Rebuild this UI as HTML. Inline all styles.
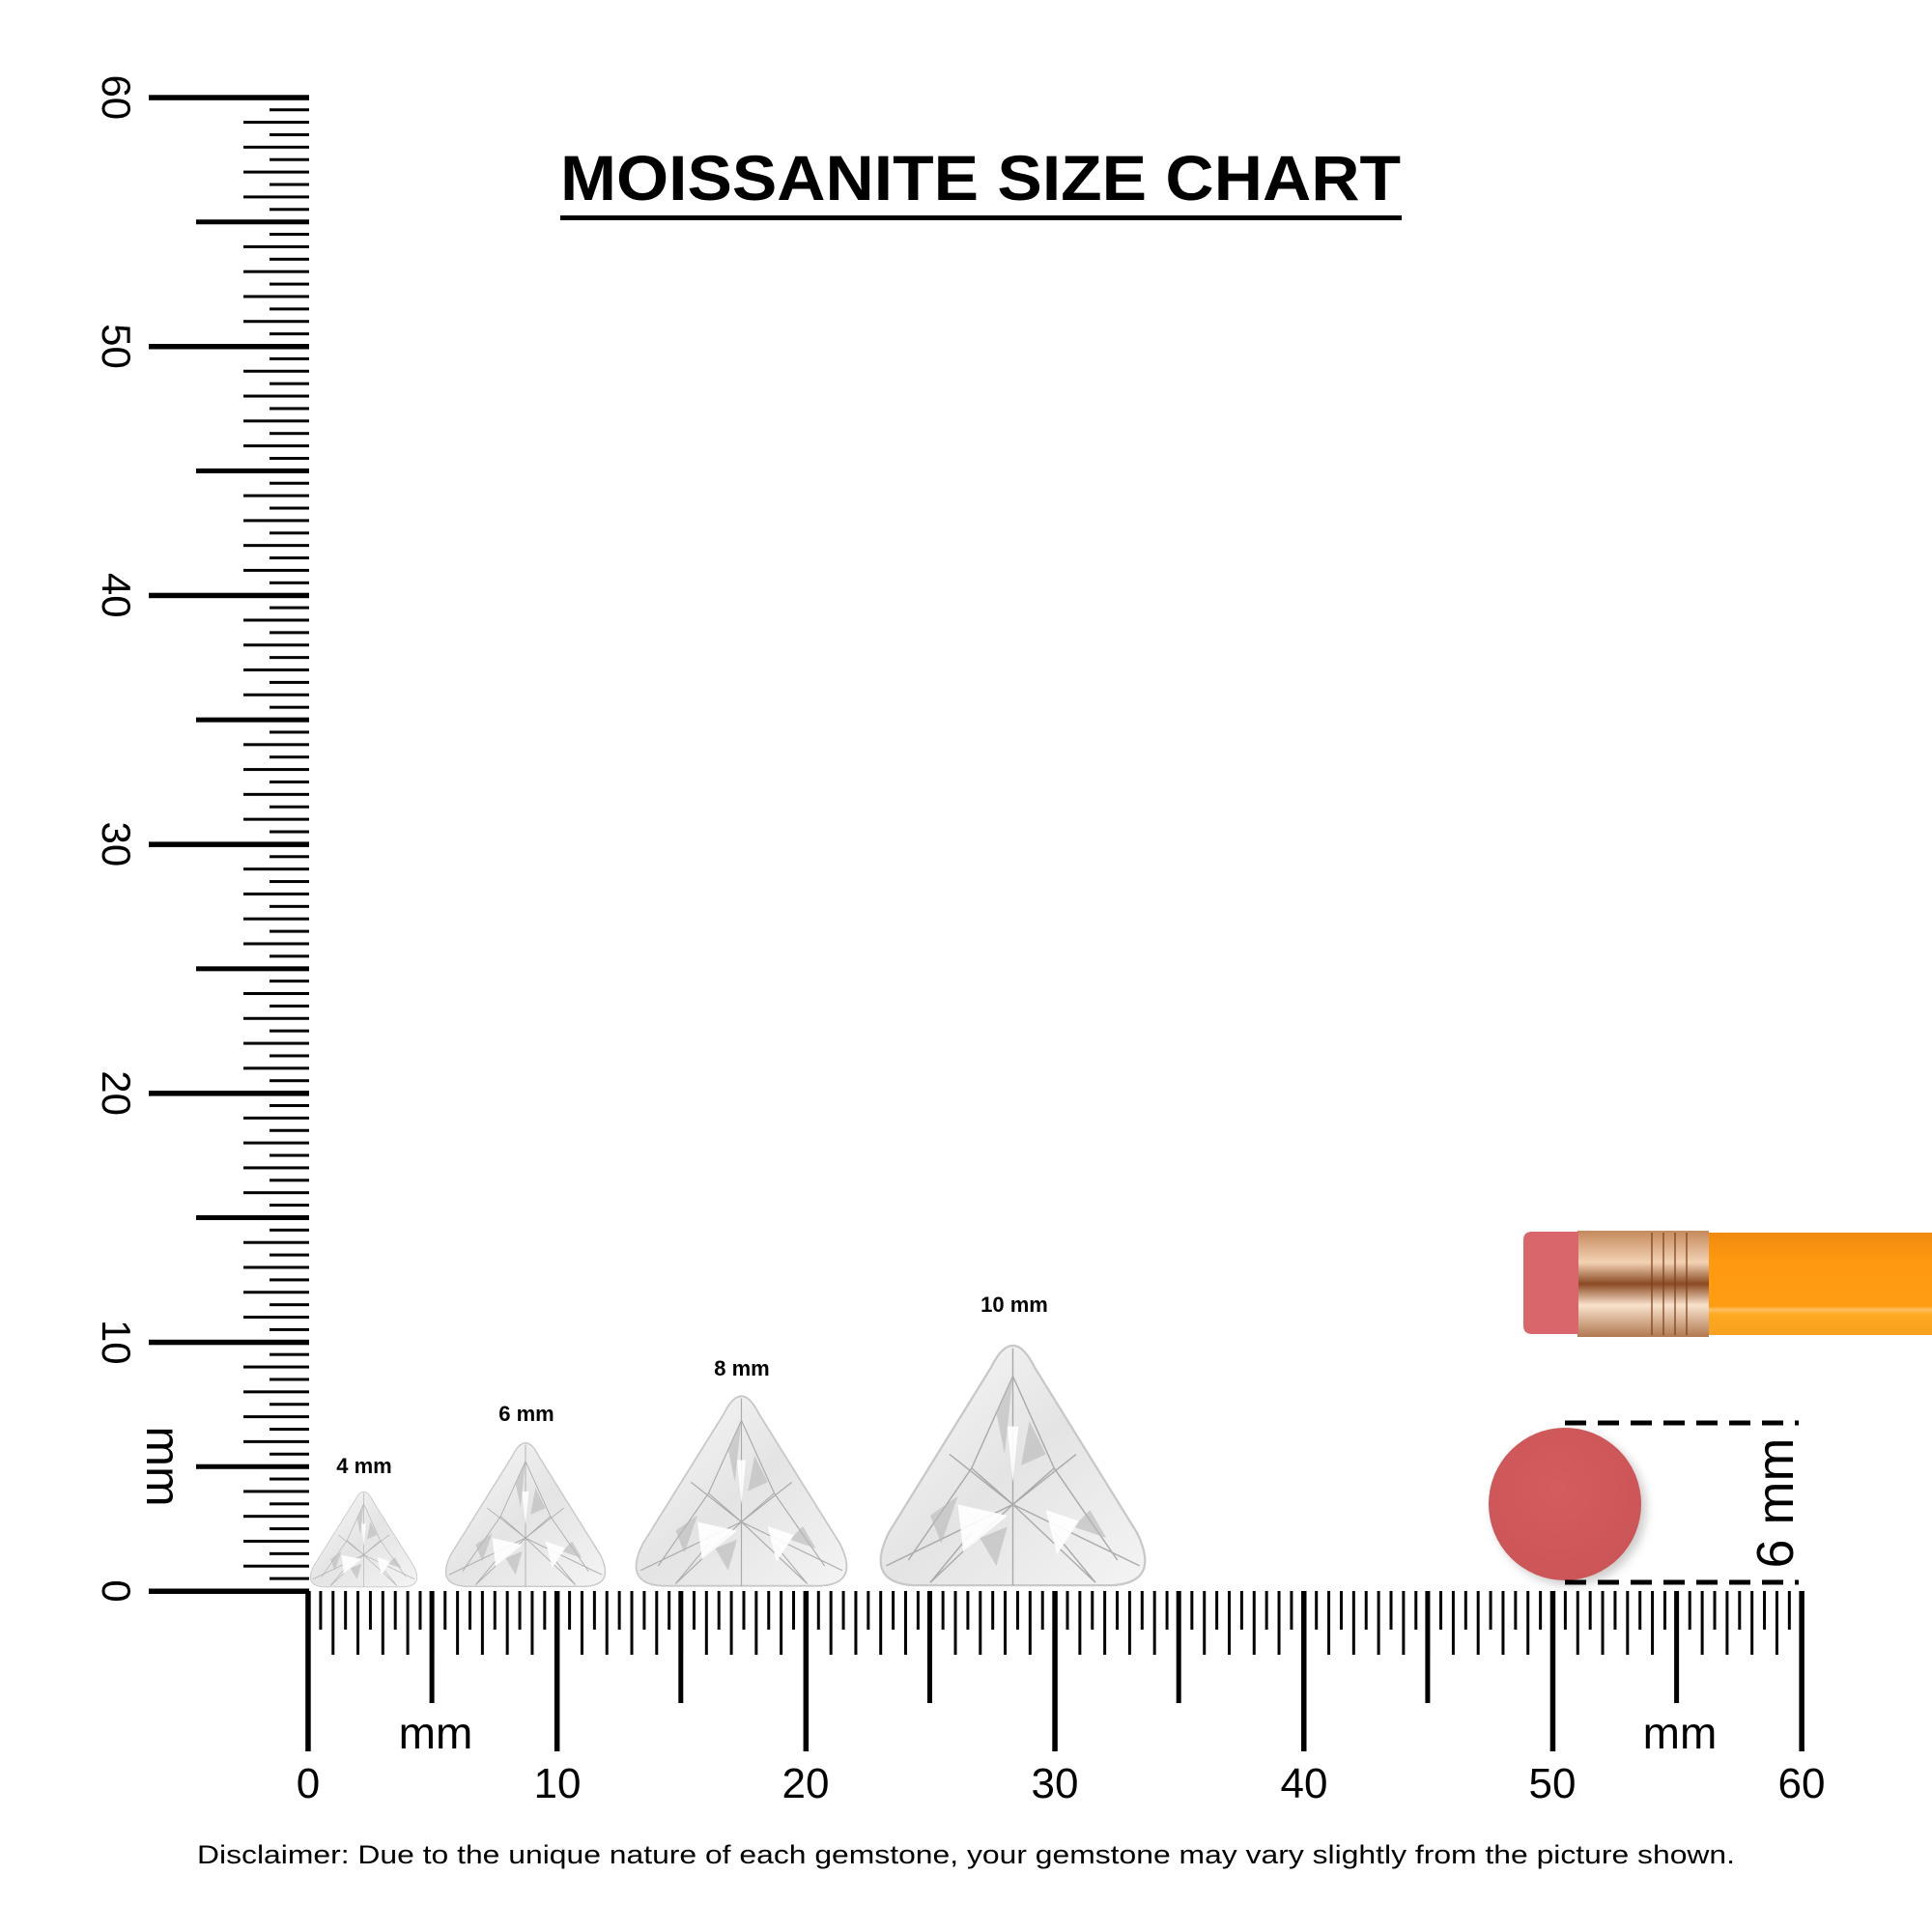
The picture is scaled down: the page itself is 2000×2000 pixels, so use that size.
<!DOCTYPE html>
<html><head><meta charset="utf-8"><style>html,body{margin:0;padding:0;background:#fff}svg{display:block}</style></head>
<body>
<svg width="2000" height="2000" viewBox="0 0 2000 2000" xmlns="http://www.w3.org/2000/svg">
<defs>
<pattern id="hHalf" patternUnits="userSpaceOnUse" x="319" y="0" width="25.77" height="2000"><rect x="11.4" y="0" width="3" height="2000" fill="#000"/></pattern>
<pattern id="hFull" patternUnits="userSpaceOnUse" x="317.5" y="0" width="25.77" height="2000"><rect x="0" y="0" width="3" height="2000" fill="#000"/></pattern>
<pattern id="vHalf" patternUnits="userSpaceOnUse" x="0" y="1647" width="2000" height="25.77"><rect x="0" y="11.4" width="2000" height="3" fill="#000"/></pattern>
<pattern id="vFull" patternUnits="userSpaceOnUse" x="0" y="1645.5" width="2000" height="25.77"><rect x="0" y="0" width="2000" height="3" fill="#000"/></pattern>
<linearGradient id="gem" x1="0" y1="0" x2="1" y2="1"><stop offset="0" stop-color="#fafafa"/><stop offset="0.5" stop-color="#e4e4e4"/><stop offset="1" stop-color="#f4f4f4"/></linearGradient>
<linearGradient id="fer" x1="0" y1="0" x2="0" y2="1"><stop offset="0" stop-color="#c48a5c"/><stop offset="0.3" stop-color="#f3d2b4"/><stop offset="0.5" stop-color="#8a4a22"/><stop offset="0.7" stop-color="#f8e2cc"/><stop offset="1" stop-color="#b07850"/></linearGradient>
<linearGradient id="ora" x1="0" y1="0" x2="0" y2="1"><stop offset="0" stop-color="#f08a10"/><stop offset="0.3" stop-color="#ff9a10"/><stop offset="0.72" stop-color="#ff9c12"/><stop offset="0.75" stop-color="#ffc060"/><stop offset="0.8" stop-color="#ffa820"/><stop offset="1" stop-color="#f6a020"/></linearGradient>
<radialGradient id="dot" cx="0.45" cy="0.4" r="0.6"><stop offset="0" stop-color="#d45c5e"/><stop offset="1" stop-color="#cc5557"/></radialGradient>
<filter id="sh" x="-30%" y="-30%" width="160%" height="160%"><feGaussianBlur stdDeviation="5"/></filter>
<symbol id="tri" viewBox="0 0 100 88" preserveAspectRatio="none">
<path d="M50,1 Q54,1 58,9 L95,68 Q104,86 86,87 L14,87 Q-4,86 5,68 L42,9 Q46,1 50,1Z" fill="url(#gem)" stroke="#c8c8c8" stroke-width="0.8"/>
<g stroke="#9a9a9a" stroke-width="0.5" fill="none" opacity="0.8">
<path d="M50,58 L50,2 M50,58 L4,80 M50,58 L96,80 M50,58 L27,40 M50,58 L73,40 M50,58 L50,87 M50,58 L20,86 M50,58 L80,86"/>
<path d="M50,12 L35,45 L50,58 L65,45 Z M12,78 L35,45 M88,78 L65,45 M20,86 L35,68 M80,86 L65,68"/>
</g>
<g fill="#b8b8b8" opacity="0.6"><path d="M44,25 L50,12 L47,40Z M56,28 L62,40 L53,44Z M20,62 L30,55 L24,72Z M78,60 L84,70 L72,66Z M38,70 L48,66 L44,80Z"/></g>
<g fill="#ffffff" opacity="0.9"><path d="M30,58 L48,62 L32,75Z M62,60 L74,64 L66,76Z M48,30 L52,30 L50,50Z"/></g>
</symbol>
</defs>
<rect width="2000" height="2000" fill="#fff"/>

<text x="1015" y="207" font-family="'Liberation Sans',sans-serif" font-weight="bold" font-size="66" text-anchor="middle" textLength="870" lengthAdjust="spacingAndGlyphs" fill="#000">MOISSANITE SIZE CHART</text>
<rect x="580" y="223" width="871" height="5" fill="#000"/>

<rect x="279" y="95" width="41" height="1555" fill="url(#vHalf)"/>
<rect x="252" y="95" width="68" height="1555" fill="url(#vFull)"/>
<g fill="#000">
<rect x="203" y="1644.6" width="117" height="5" transform="translate(0,-128.85)"/>
<rect x="203" y="1644.6" width="117" height="5" transform="translate(0,-386.55)"/>
<rect x="203" y="1644.6" width="117" height="5" transform="translate(0,-644.25)"/>
<rect x="203" y="1644.6" width="117" height="5" transform="translate(0,-901.95)"/>
<rect x="203" y="1644.6" width="117" height="5" transform="translate(0,-1159.65)"/>
<rect x="203" y="1644.6" width="117" height="5" transform="translate(0,-1417.35)"/>
<rect x="154" y="1644.5" width="166" height="5.5"/>
<rect x="154" y="1644.5" width="166" height="5.5" transform="translate(0,-257.7)"/>
<rect x="154" y="1644.5" width="166" height="5.5" transform="translate(0,-515.4)"/>
<rect x="154" y="1644.5" width="166" height="5.5" transform="translate(0,-773.1)"/>
<rect x="154" y="1644.5" width="166" height="5.5" transform="translate(0,-1030.8)"/>
<rect x="154" y="1644.5" width="166" height="5.5" transform="translate(0,-1288.5)"/>
<rect x="154" y="1644.5" width="166" height="5.5" transform="translate(0,-1546.2)"/>
</g>
<g font-family="'Liberation Sans',sans-serif" font-size="42" fill="#000" text-anchor="middle">
<text transform="translate(106,1647) rotate(90)">0</text>
<text transform="translate(106,1389.3) rotate(90)">10</text>
<text transform="translate(106,1131.6) rotate(90)">20</text>
<text transform="translate(106,873.9) rotate(90)">30</text>
<text transform="translate(106,616.2) rotate(90)">40</text>
<text transform="translate(106,358.5) rotate(90)">50</text>
<text transform="translate(106,100.8) rotate(90)">60</text>
<text transform="translate(152,1518) rotate(90)" font-size="50">mm</text>
</g>

<rect x="319" y="1647" width="1548" height="40" fill="url(#hHalf)"/>
<rect x="317" y="1647" width="1550" height="66" fill="url(#hFull)"/>
<g fill="#000">
<rect x="444.6" y="1647" width="5" height="116"/>
<rect x="702.3" y="1647" width="5" height="116"/>
<rect x="960" y="1647" width="5" height="116"/>
<rect x="1217.7" y="1647" width="5" height="116"/>
<rect x="1475.4" y="1647" width="5" height="116"/>
<rect x="1733.1" y="1647" width="5" height="116"/>
<rect x="316.2" y="1647" width="5.5" height="166"/>
<rect x="573.9" y="1647" width="5.5" height="166"/>
<rect x="831.6" y="1647" width="5.5" height="166"/>
<rect x="1089.3" y="1647" width="5.5" height="166"/>
<rect x="1347" y="1647" width="5.5" height="166"/>
<rect x="1604.7" y="1647" width="5.5" height="166"/>
<rect x="1862.4" y="1647" width="5.5" height="166"/>
</g>
<g font-family="'Liberation Sans',sans-serif" font-size="44" fill="#000" text-anchor="middle">
<text x="319" y="1861">0</text>
<text x="577" y="1861">10</text>
<text x="834" y="1861">20</text>
<text x="1092" y="1861">30</text>
<text x="1350" y="1861">40</text>
<text x="1607" y="1861">50</text>
<text x="1865" y="1861">60</text>
<text x="451" y="1810" font-size="46">mm</text>
<text x="1739" y="1810" font-size="46">mm</text>
</g>

<use href="#tri" x="319" y="1543" width="115" height="101"/>
<use href="#tri" x="458" y="1492" width="172" height="152"/>
<use href="#tri" x="654" y="1443" width="227" height="201"/>
<use href="#tri" x="906" y="1390" width="285" height="254"/>
<g font-family="'Liberation Sans',sans-serif" font-weight="bold" font-size="22" fill="#000" text-anchor="middle">
<text x="377" y="1525">4 mm</text>
<text x="545" y="1471">6 mm</text>
<text x="768" y="1424">8 mm</text>
<text x="1050" y="1358">10 mm</text>
</g>

<rect x="1767" y="1276" width="233" height="106" fill="url(#ora)"/>
<rect x="1633" y="1274" width="136" height="110" fill="url(#fer)"/>
<g stroke="#7a3d18" stroke-width="2" opacity="0.6"><line x1="1710" y1="1276" x2="1710" y2="1382"/><line x1="1722" y1="1276" x2="1722" y2="1382"/><line x1="1734" y1="1276" x2="1734" y2="1382"/><line x1="1746" y1="1276" x2="1746" y2="1382"/></g>
<path d="M1586,1275 H1634 V1381 H1586 Q1577,1381 1577,1372 V1284 Q1577,1275 1586,1275Z" fill="#d9666b"/>

<circle cx="1625" cy="1562" r="79" fill="#999" opacity="0.5" filter="url(#sh)"/>
<circle cx="1620" cy="1557" r="79" fill="url(#dot)"/>
<g stroke="#000" stroke-width="5" stroke-dasharray="22,12">
<line x1="1620" y1="1473" x2="1862" y2="1473"/>
<line x1="1620" y1="1638" x2="1862" y2="1638"/>
</g>
<text transform="translate(1856,1556) rotate(-90)" font-family="'Liberation Sans',sans-serif" font-size="54" text-anchor="middle" fill="#000">6 mm</text>

<text x="1000" y="1929" font-family="'Liberation Sans',sans-serif" font-size="27" text-anchor="middle" textLength="1592" lengthAdjust="spacingAndGlyphs" fill="#000">Disclaimer: Due to the unique nature of each gemstone, your gemstone may vary slightly from the picture shown.</text>
</svg>
</body></html>
